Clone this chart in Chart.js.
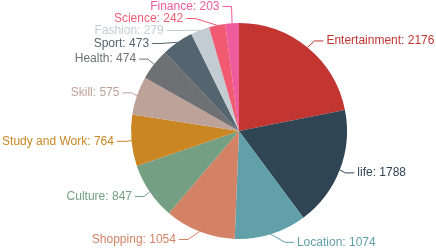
<!DOCTYPE html>
<html>
<head>
<meta charset="utf-8">
<script src="https://cdn.jsdelivr.net/npm/chart.js@4.4.1/dist/chart.umd.min.js"></script>
<style>
  html, body { margin: 0; padding: 0; background: #fff; }
  #wrap { width: 436px; height: 248px; }
</style>
</head>
<body>
<div id="wrap"><canvas id="myChart" width="436" height="248"></canvas></div>
<script>
// data
var categories = ['Entertainment', 'life', 'Location', 'Shopping', 'Culture', 'Study and Work',
                  'Skill', 'Health', 'Sport', 'Fashion', 'Science', 'Finance'];
var values = [2176, 1788, 1074, 1054, 847, 764, 575, 474, 473, 279, 242, 203];
var colors = ['#c23531', '#2f4554', '#61a0a8', '#d48265', '#749f83', '#ca8622',
              '#bda29a', '#6e7074', '#546570', '#c4ccd3', '#f05b72', '#ef5b9c'];

// leader line settings (echarts-like)
var LEN = 8.5, LEN2 = 9, GAP = 3, LABEL_H = 12;
var FONT = '12px "Liberation Sans", Arial, sans-serif';

function adjustSingleSide(list, cx, cy, r, dir) {
    list.sort(function (a, b) { return a.y - b.y; });
    function shiftDown(start, end, delta) {
        for (var j = start; j < end; j++) {
            list[j].y += delta;
            if (j > start && j + 1 < end && list[j + 1].y > list[j].y + list[j].h) {
                shiftUp(j, delta / 2);
                return;
            }
        }
        shiftUp(end - 1, delta / 2);
    }
    function shiftUp(end, delta) {
        for (var j = end; j >= 0; j--) {
            list[j].y -= delta;
            if (j > 0 && list[j].y > list[j - 1].y + list[j - 1].h) break;
        }
    }
    function changeX(arr, isDown) {
        var last = isDown ? Number.MAX_VALUE : 0;
        for (var i = 0; i < arr.length; i++) {
            var dY = Math.abs(arr[i].y - cy);
            var R = r + LEN + LEN2;
            var dX = dY < r + LEN ? Math.sqrt(R * R - dY * dY) : Math.abs(arr[i].x - cx);
            if (isDown && dX >= last) dX = last - 10;
            if (!isDown && dX <= last) dX = last + 10;
            arr[i].x = cx + dX * dir;
            last = dX;
        }
    }
    var lastY = 0;
    for (var i = 0; i < list.length; i++) {
        var d = list[i].y - lastY;
        if (d < 0) shiftDown(i, list.length, -d);
        lastY = list[i].y + list[i].h;
    }
    var up = [], down = [];
    list.forEach(function (it) { (it.y >= cy ? down : up).push(it); });
    changeX(up, false);
    changeX(down, true);
}

var outerLabels = {
    id: 'outerLabels',
    afterDatasetsDraw: function (chart) {
        var ctx = chart.ctx;
        var arcs = chart.getDatasetMeta(0).data;
        var cx = 0, cy = 0, r = 0;
        var items = arcs.map(function (arc, i) {
            var p = arc.getProps(['x', 'y', 'startAngle', 'endAngle', 'outerRadius'], true);
            cx = p.x; cy = p.y; r = p.outerRadius;
            var mid = (p.startAngle + p.endAngle) / 2;
            var dx = Math.cos(mid), dy = Math.sin(mid);
            var x2 = p.x + (r + LEN) * dx, y2 = p.y + (r + LEN) * dy;
            var s = dx < 0 ? -1 : 1;
            return {
                x: x2 + s * (LEN2 + GAP), y: y2, h: LABEL_H,
                x1: p.x + r * dx, y1: p.y + r * dy,
                text: categories[i] + ': ' + values[i], color: colors[i]
            };
        });
        var left = items.filter(function (it) { return it.x < cx; });
        var right = items.filter(function (it) { return it.x >= cx; });
        adjustSingleSide(right, cx, cy, r, 1);
        adjustSingleSide(left, cx, cy, r, -1);

        ctx.save();
        ctx.font = FONT;
        ctx.textBaseline = 'middle';
        ctx.lineWidth = 1;
        items.forEach(function (it) {
            var isLeft = it.x < cx;
            var endX = isLeft ? it.x + GAP : it.x - GAP;
            var midX = isLeft ? endX + LEN2 : endX - LEN2;
            ctx.strokeStyle = it.color;
            ctx.beginPath();
            ctx.moveTo(it.x1, it.y1);
            ctx.lineTo(midX, it.y);
            ctx.lineTo(endX, it.y);
            ctx.stroke();
            ctx.fillStyle = it.color;
            ctx.textAlign = isLeft ? 'right' : 'left';
            ctx.fillText(it.text, it.x, it.y);
        });
        ctx.restore();
    }
};

var ctx = document.getElementById('myChart').getContext('2d');
var myChart = new Chart(ctx, {
    type: 'pie',
    data: {
        labels: categories,
        datasets: [{
            data: values,
            backgroundColor: colors,
            borderWidth: 0,
            hoverOffset: 0,
            offset: 0
        }]
    },
    options: {
        responsive: false,
        animation: false,
        layout: { padding: { left: 131, right: 89, top: 23, bottom: 9 } },
        plugins: {
            legend: { display: false },
            tooltip: { enabled: false }
        }
    },
    plugins: [outerLabels]
});
</script>
</body>
</html>
